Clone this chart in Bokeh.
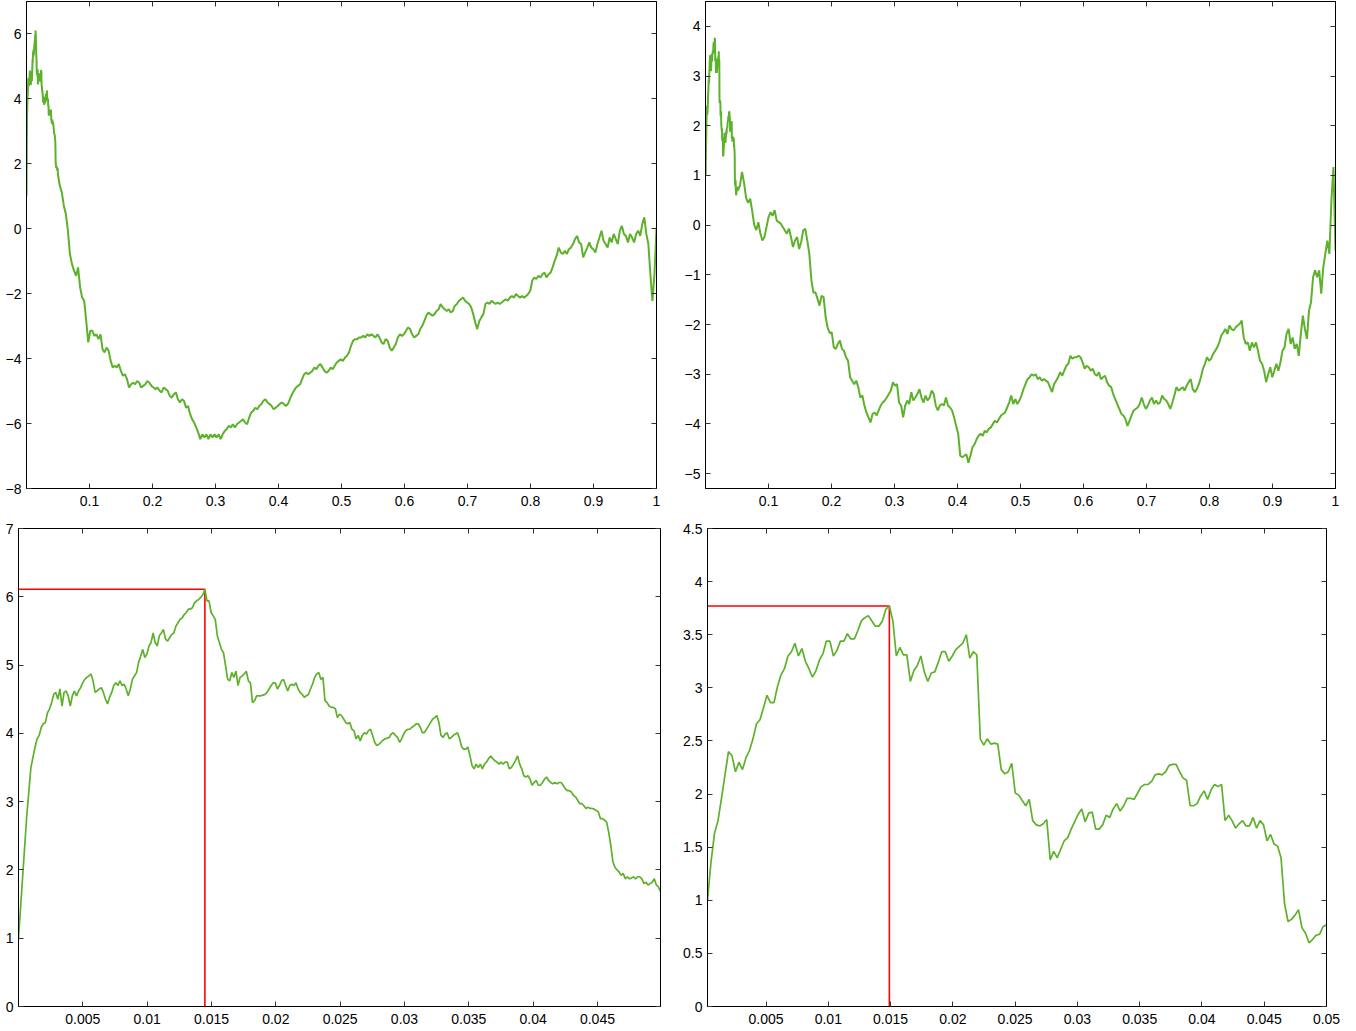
import numpy as np
from bokeh.plotting import figure
from bokeh.models import Range1d, FixedTicker, LinearAxis
from bokeh.layouts import column, row
from bokeh.embed import file_html
from bokeh.resources import INLINE

# ---------------- data ----------------
# Bottom-left: first 0.05 of path A (uniform time grid 0 .. 0.0499)
BL_Y = [1.00, 1.45, 1.90, 2.35, 2.80, 3.15, 3.50, 3.65, 3.80, 3.92,
        3.97, 4.09, 4.14, 4.16, 4.30, 4.36, 4.45, 4.57, 4.60, 4.50,
        4.65, 4.40, 4.60, 4.62, 4.55, 4.40, 4.55, 4.62, 4.55, 4.62,
        4.67, 4.74, 4.79, 4.82, 4.84, 4.87, 4.77, 4.60, 4.62, 4.65,
        4.67, 4.60, 4.50, 4.43, 4.53, 4.60, 4.70, 4.74, 4.70, 4.77,
        4.70, 4.72, 4.65, 4.55, 4.65, 4.79, 4.84, 4.89, 5.04, 5.13,
        5.23, 5.11, 5.16, 5.28, 5.33, 5.47, 5.33, 5.28, 5.43, 5.47,
        5.52, 5.38, 5.35, 5.40, 5.45, 5.47, 5.57, 5.62, 5.67, 5.69,
        5.74, 5.77, 5.82, 5.82, 5.84, 5.91, 5.94, 5.96, 5.99, 6.03,
        6.11, 5.94, 5.94, 5.77, 5.72, 5.67, 5.43, 5.33, 5.23, 5.18,
        4.99, 4.79, 4.77, 4.89, 4.82, 4.91, 4.70, 4.82, 4.84, 4.87,
        4.91, 4.77, 4.74, 4.45, 4.48, 4.55, 4.55, 4.55, 4.56, 4.57,
        4.60, 4.65, 4.70, 4.74, 4.74, 4.65, 4.70, 4.77, 4.79, 4.70,
        4.62, 4.70, 4.72, 4.70, 4.74, 4.65, 4.60, 4.57, 4.53, 4.55,
        4.57, 4.65, 4.72, 4.82, 4.87, 4.89, 4.79, 4.82, 4.48, 4.45,
        4.40, 4.38, 4.38, 4.36, 4.23, 4.28, 4.26, 4.21, 4.16, 4.14,
        4.16, 4.06, 4.04, 3.92, 3.97, 3.89, 3.97, 4.01, 3.99, 4.04,
        4.06, 3.97, 3.87, 3.82, 3.84, 3.87, 3.90, 3.92, 3.93, 3.94,
        3.99, 4.01, 3.97, 3.94, 3.87, 3.92, 3.99, 4.04, 4.06, 4.06,
        4.09, 4.11, 4.14, 4.14, 4.09, 4.01, 4.01, 4.06, 4.11, 4.16,
        4.21, 4.23, 4.26, 4.16, 3.97, 3.94, 3.99, 4.01, 3.92, 3.94,
        3.97, 3.99, 4.01, 3.92, 3.80, 3.77, 3.77, 3.80, 3.67, 3.53,
        3.48, 3.55, 3.50, 3.55, 3.48, 3.55, 3.58, 3.63, 3.67, 3.63,
        3.60, 3.58, 3.55, 3.58, 3.55, 3.58, 3.58, 3.48, 3.50, 3.55,
        3.60, 3.67, 3.55, 3.48, 3.38, 3.36, 3.38, 3.33, 3.24, 3.28,
        3.31, 3.24, 3.24, 3.28, 3.33, 3.36, 3.31, 3.28, 3.26, 3.28,
        3.26, 3.28, 3.28, 3.24, 3.19, 3.16, 3.16, 3.14, 3.09, 3.07,
        3.02, 2.97, 2.97, 2.94, 2.90, 2.92, 2.90, 2.90, 2.89, 2.87,
        2.85, 2.75, 2.75, 2.73, 2.70, 2.55, 2.36, 2.12, 2.04, 2.00,
        1.97, 1.92, 1.95, 1.87, 1.90, 1.87, 1.88, 1.90, 1.87, 1.90,
        1.90, 1.87, 1.80, 1.82, 1.78, 1.80, 1.82, 1.87, 1.78, 1.75,
        1.68]
BL_T0, BL_T1 = 0.0, 0.0499

# Top-left: rest of path A (uniform time grid 0.0528 .. 1)
TL_TAIL_Y = [1.33, 1.12, 0.71, 0.45, -0.06, -0.78, -1.09, -1.29, -1.45, -1.19,
             -1.81, -2.12, -2.22, -2.84, -3.50, -3.14, -3.14, -3.30, -3.25, -3.40,
             -3.25, -3.71, -3.81, -3.66, -3.76, -4.07, -4.27, -4.22, -4.27, -4.17,
             -4.38, -4.53, -4.48, -4.63, -4.89, -4.79, -4.74, -4.79, -4.69, -4.74,
             -4.89, -4.84, -4.79, -4.69, -4.74, -4.84, -4.89, -4.94, -4.89, -4.99,
             -5.04, -4.89, -4.94, -4.99, -5.15, -5.20, -5.10, -5.04, -5.25, -5.35,
             -5.25, -5.30, -5.51, -5.46, -5.71, -5.87, -5.97, -6.12, -6.28, -6.48,
             -6.33, -6.43, -6.33, -6.48, -6.33, -6.43, -6.33, -6.43, -6.33, -6.48,
             -6.33, -6.23, -6.17, -6.07, -6.12, -6.02, -6.12, -6.02, -5.97, -5.92,
             -5.87, -5.97, -6.02, -5.82, -5.66, -5.61, -5.51, -5.56, -5.46, -5.40,
             -5.30, -5.25, -5.35, -5.40, -5.46, -5.56, -5.51, -5.46, -5.40, -5.35,
             -5.40, -5.46, -5.40, -5.25, -5.10, -4.99, -4.89, -4.84, -4.79, -4.63,
             -4.48, -4.43, -4.48, -4.43, -4.38, -4.27, -4.33, -4.22, -4.17, -4.27,
             -4.38, -4.43, -4.38, -4.27, -4.33, -4.22, -4.12, -4.07, -4.02, -4.07,
             -3.97, -3.91, -3.81, -3.61, -3.45, -3.40, -3.40, -3.35, -3.35, -3.30,
             -3.35, -3.25, -3.30, -3.25, -3.30, -3.35, -3.25, -3.35, -3.50, -3.55,
             -3.40, -3.45, -3.66, -3.76, -3.66, -3.55, -3.35, -3.25, -3.30, -3.25,
             -3.14, -3.04, -3.09, -3.25, -3.35, -3.30, -3.25, -3.09, -2.99, -2.84,
             -2.68, -2.58, -2.63, -2.68, -2.63, -2.53, -2.48, -2.32, -2.42, -2.48,
             -2.53, -2.48, -2.58, -2.53, -2.37, -2.32, -2.22, -2.17, -2.12, -2.22,
             -2.27, -2.32, -2.42, -2.63, -2.89, -3.09, -2.84, -2.73, -2.63, -2.32,
             -2.27, -2.32, -2.22, -2.27, -2.32, -2.27, -2.32, -2.27, -2.22, -2.17,
             -2.22, -2.12, -2.07, -2.12, -2.01, -2.07, -2.12, -2.07, -2.12, -2.07,
             -2.01, -1.91, -1.60, -1.50, -1.55, -1.45, -1.50, -1.40, -1.35, -1.50,
             -1.40, -1.35, -1.19, -0.99, -0.83, -0.58, -0.73, -0.78, -0.68, -0.78,
             -0.63, -0.58, -0.47, -0.32, -0.22, -0.42, -0.47, -0.88, -0.73, -0.58,
             -0.42, -0.58, -0.63, -0.73, -0.47, -0.27, -0.06, -0.37, -0.47, -0.58,
             -0.27, -0.42, -0.16, -0.32, -0.47, -0.06, 0.09, -0.16, -0.22, -0.42,
             -0.16, -0.27, -0.42, -0.16, -0.06, -0.22, 0.14, 0.35, -0.16, -0.47,
             -1.40, -2.22, -1.40, 0.04]
TL_TAIL_T0, TL_TAIL_T1 = 0.0528, 1.0

# Bottom-right: first 0.05 of path B (uniform time grid 0.0003 .. 0.05)
BR_Y = [1.00, 1.36, 1.63, 1.75, 1.96, 2.18, 2.40, 2.36, 2.21, 2.30,
        2.23, 2.34, 2.41, 2.52, 2.66, 2.70, 2.81, 2.93, 2.86, 2.86,
        3.01, 3.12, 3.18, 3.30, 3.34, 3.42, 3.30, 3.37, 3.25, 3.18,
        3.10, 3.16, 3.26, 3.32, 3.44, 3.44, 3.30, 3.35, 3.44, 3.44,
        3.51, 3.46, 3.46, 3.54, 3.63, 3.66, 3.68, 3.63, 3.58, 3.58,
        3.63, 3.74, 3.77, 3.63, 3.30, 3.38, 3.31, 3.31, 3.06, 3.16,
        3.21, 3.30, 3.15, 3.06, 3.14, 3.15, 3.24, 3.34, 3.34, 3.25,
        3.30, 3.36, 3.39, 3.42, 3.50, 3.28, 3.34, 3.31, 2.52, 2.46,
        2.52, 2.47, 2.48, 2.47, 2.23, 2.19, 2.21, 2.29, 2.01, 1.99,
        1.94, 1.89, 1.95, 1.75, 1.71, 1.70, 1.72, 1.76, 1.38, 1.46,
        1.40, 1.48, 1.56, 1.59, 1.67, 1.74, 1.81, 1.86, 1.74, 1.82,
        1.83, 1.67, 1.67, 1.71, 1.80, 1.78, 1.86, 1.91, 1.84, 1.89,
        1.96, 1.96, 1.95, 2.01, 2.07, 2.09, 2.09, 2.12, 2.18, 2.19,
        2.18, 2.21, 2.27, 2.28, 2.28, 2.21, 2.15, 2.13, 1.89, 1.89,
        1.91, 1.98, 2.03, 1.95, 2.04, 2.09, 2.07, 2.09, 1.75, 1.80,
        1.75, 1.68, 1.72, 1.75, 1.70, 1.70, 1.78, 1.68, 1.75, 1.71,
        1.56, 1.62, 1.53, 1.51, 1.40, 0.97, 0.80, 0.82, 0.86, 0.91,
        0.74, 0.69, 0.60, 0.63, 0.67, 0.68, 0.75, 0.77]
BR_T0, BR_T1 = 0.0003, 0.05

# Top-right: rest of path B (uniform time grid 0.0515 .. 1)
TR_TAIL_Y = [0.70, 0.80, 1.07, 0.85, 0.55, 0.45, 0.53, 0.28, 0.00, -0.10,
             0.06, -0.17, -0.31, -0.24, -0.04, 0.16, 0.26, 0.19, 0.30, 0.09,
             0.06, 0.03, -0.04, -0.11, -0.17, -0.07, -0.24, -0.44, -0.31, -0.24,
             -0.48, -0.34, -0.11, -0.07, -0.31, -0.58, -1.10, -1.36, -1.35, -1.48,
             -1.62, -1.42, -1.45, -1.85, -2.07, -2.17, -2.16, -2.46, -2.49, -2.39,
             -2.32, -2.49, -2.53, -2.66, -2.73, -3.06, -3.13, -3.20, -3.13, -3.26,
             -3.47, -3.43, -3.63, -3.77, -3.87, -3.97, -3.80, -3.77, -3.83, -3.73,
             -3.63, -3.57, -3.53, -3.47, -3.40, -3.33, -3.16, -3.23, -3.20, -3.57,
             -3.63, -3.87, -3.63, -3.53, -3.60, -3.36, -3.53, -3.47, -3.40, -3.30,
             -3.47, -3.57, -3.43, -3.53, -3.47, -3.33, -3.40, -3.63, -3.73, -3.63,
             -3.60, -3.63, -3.47, -3.63, -3.67, -3.73, -3.87, -4.04, -4.20, -4.64,
             -4.67, -4.64, -4.61, -4.78, -4.64, -4.47, -4.41, -4.31, -4.24, -4.20,
             -4.24, -4.14, -4.17, -4.10, -4.07, -4.00, -3.94, -3.97, -3.90, -3.83,
             -3.80, -3.77, -3.67, -3.57, -3.43, -3.60, -3.50, -3.60, -3.53, -3.43,
             -3.30, -3.20, -3.10, -3.06, -3.00, -3.03, -3.00, -3.10, -3.06, -3.13,
             -3.10, -3.13, -3.16, -3.26, -3.36, -3.20, -3.13, -3.06, -2.96, -3.03,
             -2.93, -2.83, -2.79, -2.63, -2.69, -2.66, -2.66, -2.63, -2.66, -2.76,
             -2.89, -2.83, -2.86, -2.93, -2.89, -3.00, -3.03, -2.96, -3.10, -3.06,
             -3.03, -3.16, -3.23, -3.26, -3.40, -3.50, -3.60, -3.70, -3.80, -3.83,
             -3.90, -4.04, -3.94, -3.83, -3.73, -3.70, -3.67, -3.60, -3.47, -3.60,
             -3.70, -3.63, -3.53, -3.47, -3.60, -3.53, -3.60, -3.57, -3.43, -3.50,
             -3.53, -3.60, -3.70, -3.57, -3.43, -3.26, -3.33, -3.30, -3.26, -3.33,
             -3.23, -3.16, -3.10, -3.30, -3.36, -3.30, -3.20, -3.06, -2.89, -2.79,
             -2.66, -2.73, -2.69, -2.59, -2.53, -2.46, -2.36, -2.22, -2.16, -2.09,
             -2.19, -2.02, -2.09, -2.12, -2.06, -2.02, -1.99, -1.92, -2.26, -2.39,
             -2.36, -2.53, -2.36, -2.46, -2.36, -2.53, -2.73, -2.79, -2.93, -3.16,
             -3.00, -2.86, -3.06, -2.93, -2.79, -2.93, -2.76, -2.53, -2.46, -2.19,
             -2.09, -2.39, -2.26, -2.49, -2.39, -2.63, -2.19, -1.82, -2.09, -2.29,
             -1.72, -1.55, -1.05, -0.91, -1.05, -0.91, -1.38, -0.85, -0.58, -0.31,
             -0.58, 0.50, 1.17, -0.51]
TR_TAIL_T0, TR_TAIL_T1 = 0.0515, 1.0

# Axis ticks
TL_XTICKS = [0.1, 0.2, 0.3, 0.4, 0.5, 0.6, 0.7, 0.8, 0.9, 1.0]
TL_YTICKS = [-8, -6, -4, -2, 0, 2, 4, 6]
TR_XTICKS = [0.1, 0.2, 0.3, 0.4, 0.5, 0.6, 0.7, 0.8, 0.9, 1.0]
TR_YTICKS = [-5, -4, -3, -2, -1, 0, 1, 2, 3, 4]
BL_XTICKS = [0.005, 0.01, 0.015, 0.02, 0.025, 0.03, 0.035, 0.04, 0.045]
BL_YTICKS = [0, 1, 2, 3, 4, 5, 6, 7]
BR_XTICKS = [0.005, 0.01, 0.015, 0.02, 0.025, 0.03, 0.035, 0.04, 0.045, 0.05]
BR_YTICKS = [0, 0.5, 1, 1.5, 2, 2.5, 3, 3.5, 4, 4.5]

# ---------------- series assembly ----------------
bl_t = np.linspace(BL_T0, BL_T1, len(BL_Y))
br_t = np.linspace(BR_T0, BR_T1, len(BR_Y))
tl_t = np.concatenate([bl_t, np.linspace(TL_TAIL_T0, TL_TAIL_T1, len(TL_TAIL_Y))])
tl_y = np.concatenate([BL_Y, TL_TAIL_Y])
tr_t = np.concatenate([br_t, np.linspace(TR_TAIL_T0, TR_TAIL_T1, len(TR_TAIL_Y))])
tr_y = np.concatenate([BR_Y, TR_TAIL_Y])

GREEN = "#5db12b"
RED = "#ff0000"
FONT = "Liberation Sans"


def fmt(v):
    return f"{v:g}".replace("-", "\u2212")


def style_axis(ax, ticks, labels, standoff=5):
    ax.ticker = FixedTicker(ticks=ticks, minor_ticks=[])
    ax.major_tick_in = 5
    ax.major_tick_out = 0
    ax.minor_tick_in = 0
    ax.minor_tick_out = 0
    ax.major_tick_line_color = "#333333"
    ax.major_tick_line_width = 1
    ax.axis_line_color = "black"
    ax.axis_line_width = 1
    ax.major_label_text_font = FONT
    ax.major_label_text_color = "black"
    if labels:
        ax.major_label_text_font_size = "14px"
        ax.major_label_standoff = standoff
        ax.major_label_overrides = {v: fmt(v) for v in ticks}
    else:
        ax.major_label_text_font_size = "0px"
        ax.major_label_standoff = 0
        ax.major_label_text_alpha = 0


def make_fig(width, height, xr, yr, xticks, yticks, borders):
    l, r, t, b = borders
    p = figure(width=width, height=height, x_range=Range1d(*xr), y_range=Range1d(*yr),
               output_backend="svg", toolbar_location=None, tools="",
               min_border_left=l, min_border_right=r, min_border_top=t, min_border_bottom=b)
    p.grid.visible = False
    p.outline_line_color = "black"
    p.outline_line_width = 1
    p.background_fill_color = "white"
    p.border_fill_color = "white"
    style_axis(p.xaxis[0], xticks, True, standoff=7)
    style_axis(p.yaxis[0], yticks, True, standoff=5)
    top = LinearAxis()
    style_axis(top, xticks, False)
    p.add_layout(top, "above")
    right = LinearAxis()
    style_axis(right, yticks, False)
    p.add_layout(right, "right")
    return p


def add_max_marker(p, t, y, x0):
    i = int(np.argmax(y))
    tp, yp = float(t[i]), float(y[i])
    p.line([x0, tp, tp], [yp, yp, 0.0], line_color=RED, line_width=1.6)


# frames: TL 26..656 x 1..488, TR 705..1335, BL 18..660 x 528..1006, BR 707..1326
p1 = make_fig(666, 520, (0, 1), (-8, 7), TL_XTICKS, TL_YTICKS, (26, 10, 1, 32))
p1.line(tl_t, tl_y, line_color=GREEN, line_width=2.0)

p2 = make_fig(675, 520, (0, 1), (-5.3, 4.5), TR_XTICKS, TR_YTICKS, (39, 6, 1, 32))
p2.line(tr_t, tr_y, line_color=GREEN, line_width=2.0)

p3 = make_fig(670, 510, (BL_T0, BL_T1), (0, 7), BL_XTICKS, BL_YTICKS, (18, 10, 8, 24))
add_max_marker(p3, bl_t, np.array(BL_Y), BL_T0)
p3.line(bl_t, BL_Y, line_color=GREEN, line_width=1.7)

p4 = make_fig(670, 510, (BR_T0, BR_T1), (0, 4.5), BR_XTICKS, BR_YTICKS, (37, 14, 8, 24))
add_max_marker(p4, br_t, np.array(BR_Y), BR_T0)
p4.line(br_t, BR_Y, line_color=GREEN, line_width=1.7)

layout = column(row(p1, p2), row(p3, p4))

open("out.html", "w").write(file_html(layout, INLINE, title="Brownian paths"))
